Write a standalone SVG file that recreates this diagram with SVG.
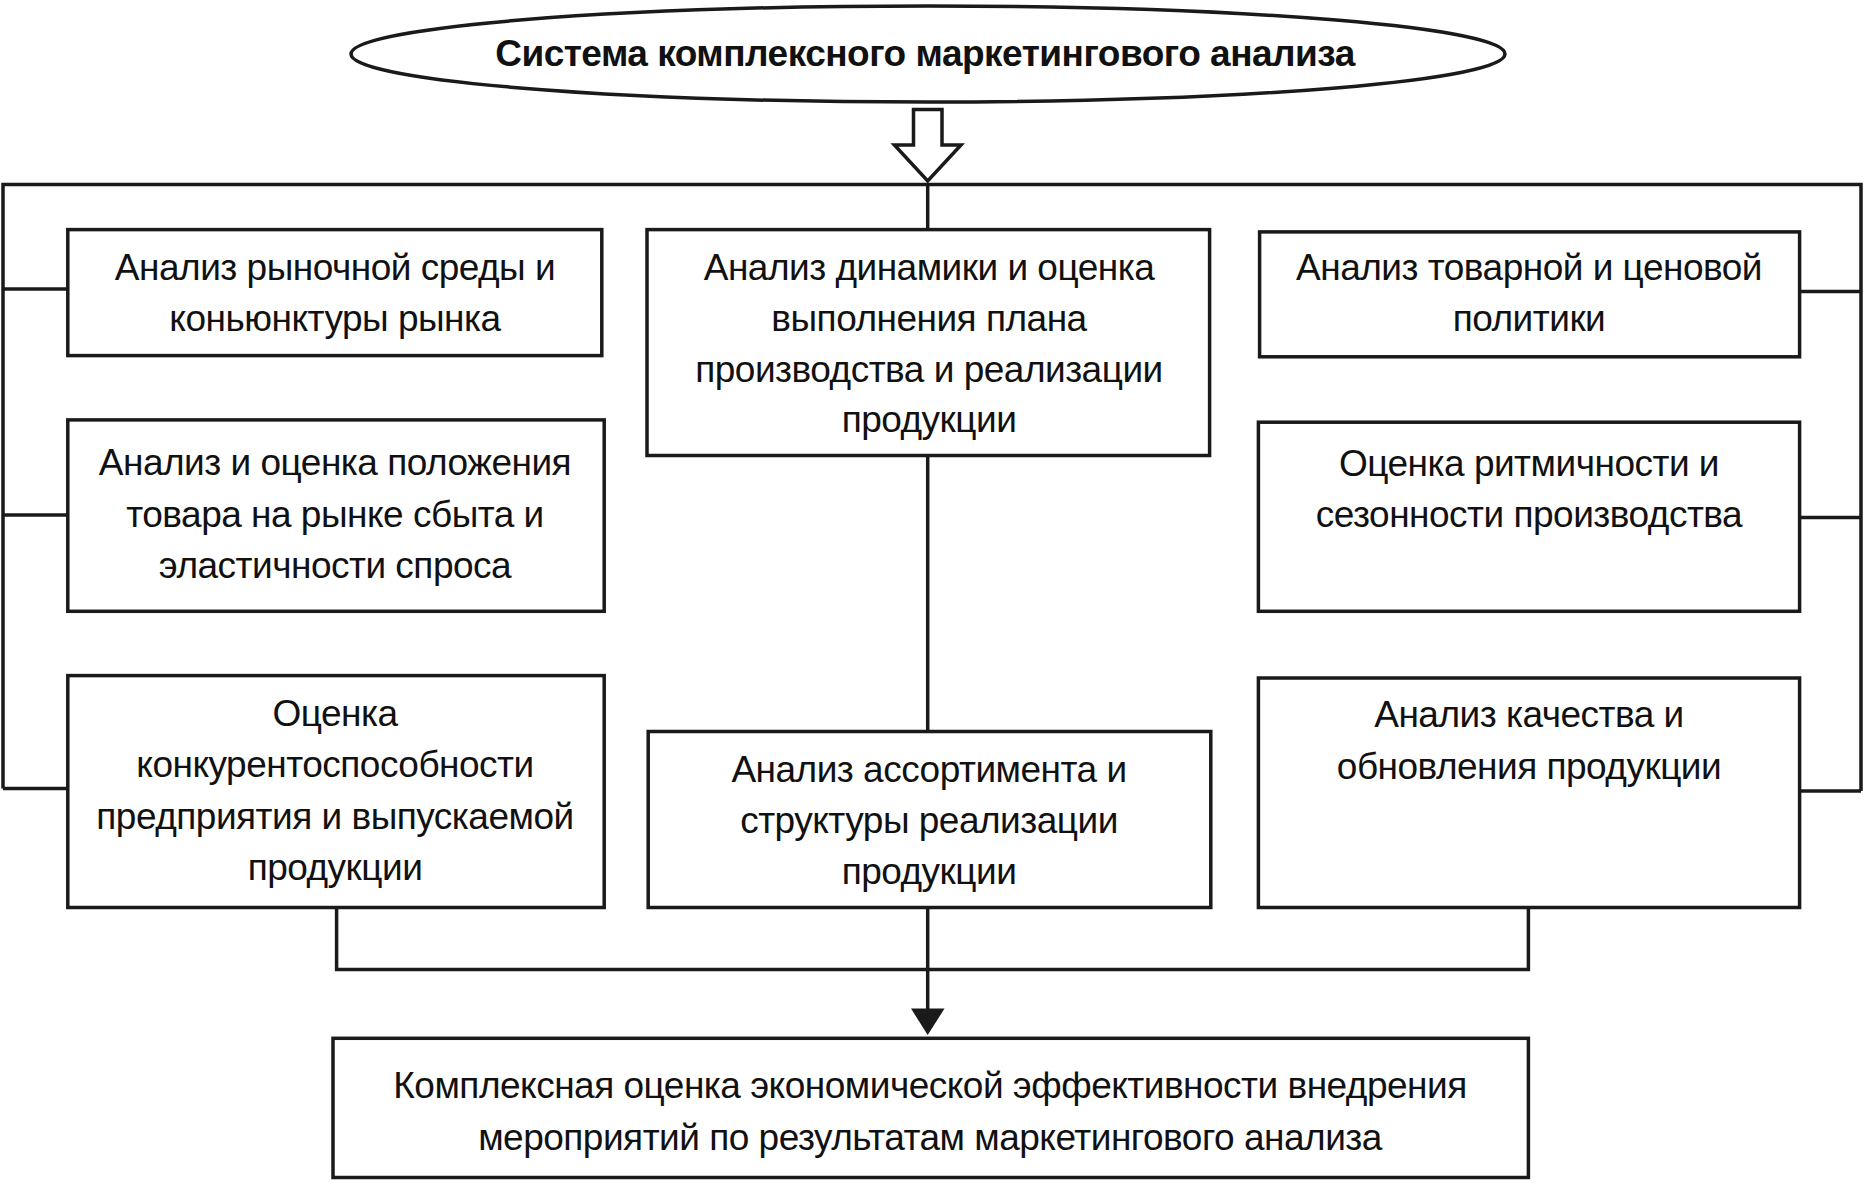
<svg xmlns="http://www.w3.org/2000/svg" width="1865" height="1184" viewBox="0 0 1865 1184">
<style>
.b{fill:#fff;stroke:#1a1a1a;stroke-width:3.5}
.l{fill:none;stroke:#1a1a1a;stroke-width:3.5}
text{font-family:"Liberation Sans",Arial,sans-serif;font-size:37px;fill:#111;text-anchor:middle;letter-spacing:-0.5px}
</style>
<rect width="1865" height="1184" fill="#fff"/>
<g id="connectors">
<polyline class="l" points="3,788.6 3,184.4 1861,184.4 1861,791"/>
<line class="l" x1="927.7" y1="184.4" x2="927.7" y2="229.6"/>
<line class="l" x1="3" y1="289" x2="67.8" y2="289"/>
<line class="l" x1="3" y1="515" x2="67.8" y2="515"/>
<line class="l" x1="3" y1="788.6" x2="67.8" y2="788.6"/>
<line class="l" x1="1799.6" y1="291.4" x2="1861" y2="291.4"/>
<line class="l" x1="1799.6" y1="517.4" x2="1861" y2="517.4"/>
<line class="l" x1="1799.6" y1="791" x2="1861" y2="791"/>
<line class="l" x1="927.7" y1="455.5" x2="927.7" y2="731.5"/>
<polyline class="l" points="336.6,907.5 336.6,969.4 1528.4,969.4 1528.4,907.5"/>
<line class="l" x1="927.7" y1="907.5" x2="927.7" y2="1010"/>
<polygon points="911,1008.6 944.5,1008.6 927.7,1035" fill="#1a1a1a"/>
<polygon class="b" points="913.5,109.4 942,109.4 942,145 961,145 927.7,181 894.4,145 913.5,145"/>
</g>
<g id="title"><ellipse class="b" cx="928" cy="54" rx="577" ry="48"/><text x="925" y="66" font-weight="bold" font-size="36">Система комплексного маркетингового анализа</text></g>
<g id="l1"><rect class="b" x="67.8" y="229.6" width="534" height="126"/><text x="335" y="280">Анализ рыночной среды и</text><text x="335" y="331">коньюнктуры рынка</text></g>
<g id="l2"><rect class="b" x="67.8" y="419.9" width="536.4" height="191.4"/><text x="335" y="475">Анализ и оценка положения</text><text x="335" y="527">товара на рынке сбыта и</text><text x="335" y="578">эластичности спроса</text></g>
<g id="l3"><rect class="b" x="67.8" y="675.6" width="536.4" height="231.9"/><text x="335" y="726">Оценка</text><text x="335" y="777">конкурентоспособности</text><text x="335" y="829">предприятия и выпускаемой</text><text x="335" y="880">продукции</text></g>
<g id="c1"><rect class="b" x="647" y="229.6" width="562.6" height="225.9"/><text x="929" y="280">Анализ динамики и оценка</text><text x="929" y="331">выполнения плана</text><text x="929" y="382">производства и реализации</text><text x="929" y="432">продукции</text></g>
<g id="c2"><rect class="b" x="648.2" y="731.5" width="562.6" height="176"/><text x="929" y="782">Анализ ассортимента и</text><text x="929" y="833">структуры реализации</text><text x="929" y="884">продукции</text></g>
<g id="r1"><rect class="b" x="1259.6" y="231.9" width="540" height="124.9"/><text x="1529" y="280">Анализ товарной и ценовой</text><text x="1529" y="331">политики</text></g>
<g id="r2"><rect class="b" x="1258.4" y="422.2" width="541.2" height="189.1"/><text x="1529" y="476">Оценка ритмичности и</text><text x="1529" y="527">сезонности производства</text></g>
<g id="r3"><rect class="b" x="1258.4" y="678" width="541.2" height="229.5"/><text x="1529" y="727">Анализ качества и</text><text x="1529" y="779">обновления продукции</text></g>
<g id="bottom"><rect class="b" x="333" y="1038.3" width="1195.4" height="139.2"/><text x="930" y="1098">Комплексная оценка экономической эффективности внедрения</text><text x="930" y="1150">мероприятий по результатам маркетингового анализа</text></g>
</svg>
